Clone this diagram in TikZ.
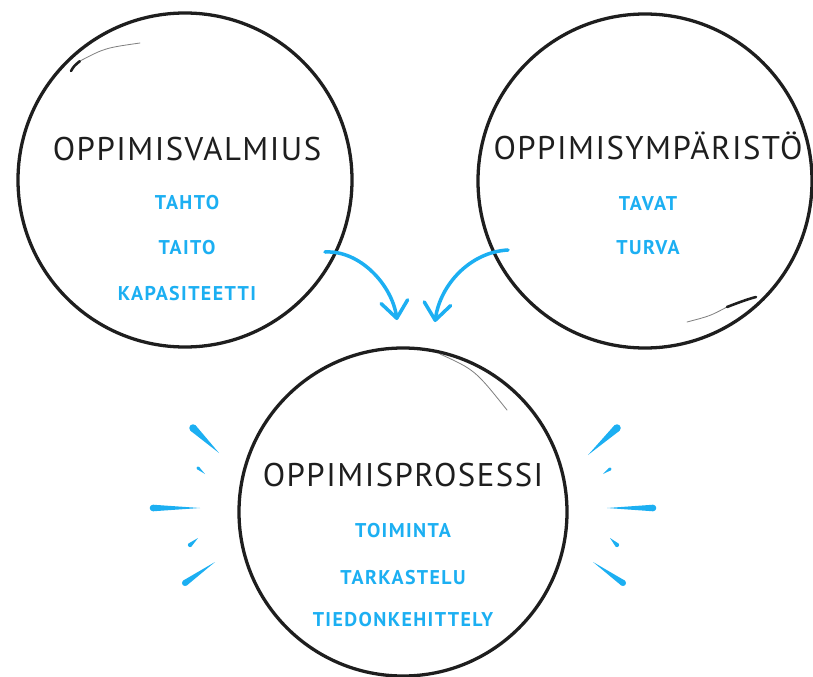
\documentclass[tikz,border=0pt]{standalone}
\usepackage{fontspec}
\setmainfont{PT Sans}
\usetikzlibrary{arrows.meta,calc}
\definecolor{inkblack}{HTML}{1E1E1E}
\definecolor{skyblue}{HTML}{1CAFF2}
\tikzset{
    ring/.style = {draw=inkblack, line width=2.8pt, circle, inner sep=0pt},
    heading/.style = {anchor=base, text=inkblack, font=\fontsize{28}{30}\selectfont\addfontfeatures{LetterSpace=4.5}},
    keyword/.style = {anchor=base, text=skyblue, font=\fontsize{17}{19}\selectfont\bfseries\addfontfeatures{LetterSpace=7}},
    flow/.style = {draw=skyblue, line width=3pt, line cap=round, -{Straight Barb[length=5mm, width=8mm, round]}},
    tail/.style = {draw=inkblack, line cap=round}
}

\begin{document}
\begin{tikzpicture}[x=0.03cm, y=-0.03cm]
        \useasboundingbox (0,0) rectangle (813,677);
        % place the three circles
        \node[ring, minimum size=10.02cm] (valmius) at (185,180) {};
        \node[ring, minimum size=10.02cm] (ymparisto) at (645,181) {};
        \node[ring, minimum size=9.84cm] (prosessi) at (403,512) {};

        % second strokes of the sketched circles
        \draw[tail, line width=2.2pt] (71,71) .. controls (74,66) .. (80,61);
        \draw[tail, line width=0.7pt, draw=gray] (80,61) .. controls (105,48) .. (140,43);
        \draw[tail, line width=0.7pt, draw=gray] (687,322) .. controls (710,316) .. (727,307);
        \draw[tail, line width=2.2pt] (727,307) .. controls (745,300) and (752,298) .. (756,297);
        \draw[tail, line width=0.7pt, draw=gray] (440,354) .. controls (475,370) .. (507,410);

        % titles
        \node[heading] (valmius-title) at (187,161) {OPPIMISVALMIUS};
        \node[heading] (ymparisto-title) at (648,159) {OPPIMISYMPÄRISTÖ};
        \node[heading] (prosessi-title) at (403,486) {OPPIMISPROSESSI};

        % keywords
        \node[keyword] (tahto) at (187,209) {TAHTO};
        \node[keyword] (taito) at (187,254) {TAITO};
        \node[keyword] (kapasiteetti) at (187,300) {KAPASITEETTI};
        \node[keyword] (tavat) at (648,210) {TAVAT};
        \node[keyword] (turva) at (648,254) {TURVA};
        \node[keyword] (toiminta) at (403,537) {TOIMINTA};
        \node[keyword] (tarkastelu) at (403,584) {TARKASTELU};
        \node[keyword] (tiedonkehittely) at (403,626) {TIEDONKEHITTELY};

        % arrows into the process
        \coordinate (valmius-out) at (325,252);
        \coordinate (ymparisto-out) at (508,250);
        \coordinate (prosessi-in-l) at (397,320);
        \coordinate (prosessi-in-r) at (435,322);
        \draw[flow] (valmius-out) .. controls (360,250) and (392,285) .. (prosessi-in-l);
        \draw[flow] (ymparisto-out) .. controls (470,252) and (440,285) .. (prosessi-in-r);

        % sparks round the process
        \foreach \ox/\oy/\ix/\iy/\w in {193/428/219/453/3.2pt, 198/468/205/474/1.3pt,
            153/508/200/508/2.8pt, 190/545/198/538/1.8pt, 185/583/215/562/2.6pt,
            617/428/588/455/3.2pt, 610/469/603/474/1.3pt, 653/508/607/508/2.8pt,
            617/545/610/538/1.8pt, 623/583/593/562/2.6pt}
        {
            \fill[skyblue] ($(\ox,\oy)!\w!90:(\ix,\iy)$) -- (\ix,\iy) -- ($(\ox,\oy)!\w!-90:(\ix,\iy)$) -- cycle;
            \fill[skyblue] (\ox,\oy) circle[radius=\w];
        }
    \end{tikzpicture}
\end{document}
